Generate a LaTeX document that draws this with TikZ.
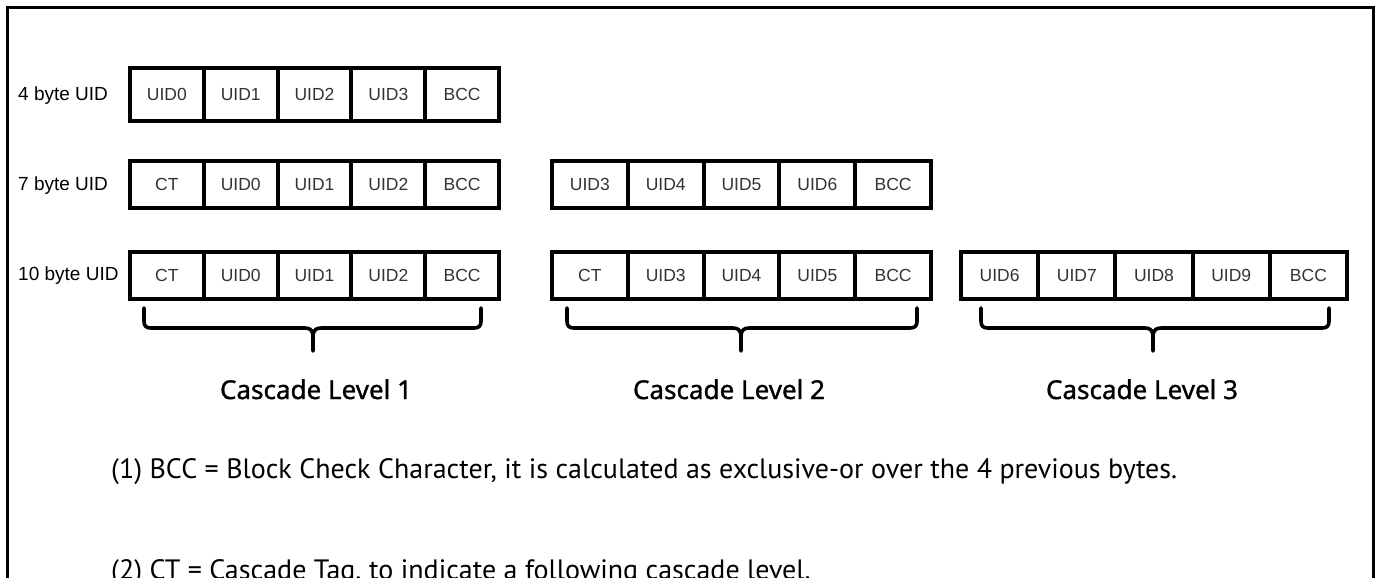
\documentclass[tikz,border=0pt]{standalone}
\usepackage{fontspec}
\setmainfont{Liberation Sans}
\newfontfamily\capfont[FakeBold=1.2]{Noto Sans}
\newfontfamily\notefont{PT Sans}
\begin{document}
\begin{tikzpicture}[x=1pt,y=-1pt,
  cell/.style={draw, line width=4pt, inner sep=0pt, minimum height=#1,
    text=black!80, font=\fontsize{17.5}{17.5}\selectfont},
  rowlabel/.style={anchor=west, inner sep=0pt, font=\fontsize{19}{19}\selectfont},
  brace/.style={line width=3.6pt, line cap=round, line join=round},
  caption/.style={anchor=base, inner sep=0pt, font=\capfont\fontsize{26}{26}\selectfont},
  note/.style={anchor=base west, inner sep=0pt, font=\notefont\fontsize{28}{28}\selectfont}]
\useasboundingbox (0,0) rectangle (1380,581);
\begin{scope}
\clip (0,0) rectangle (1380,577);

% outer frame, open at the bottom
\draw[line width=3pt] (7,590) -- (7,7) -- (1373,7) -- (1373,590);

% row labels
\node[rowlabel] (l4) at (18,96) {4 byte UID};
\node[rowlabel] (l7) at (18,186) {7 byte UID};
\node[rowlabel] (l10) at (18,276) {10 byte UID};

% 4 byte UID
\foreach \t [count=\i] in {UID0,UID1,UID2,UID3,BCC}
  \node[cell=53pt, minimum width=73.8pt] (a\i) at ({130+36.9+(\i-1)*73.8},94.5) {\t};

% 7 byte UID
\foreach \t [count=\i] in {CT,UID0,UID1,UID2,BCC}
  \node[cell=47pt, minimum width=73.8pt] (b\i) at ({130+36.9+(\i-1)*73.8},184.5) {\t};
\foreach \t [count=\i] in {UID3,UID4,UID5,UID6,BCC}
  \node[cell=47pt, minimum width=75.8pt] (c\i) at ({552+37.9+(\i-1)*75.8},184.5) {\t};

% 10 byte UID
\foreach \t [count=\i] in {CT,UID0,UID1,UID2,BCC}
  \node[cell=47pt, minimum width=73.8pt] (d\i) at ({130+36.9+(\i-1)*73.8},275.5) {\t};
\foreach \t [count=\i] in {CT,UID3,UID4,UID5,BCC}
  \node[cell=47pt, minimum width=75.8pt] (e\i) at ({552+37.9+(\i-1)*75.8},275.5) {\t};
\foreach \t [count=\i] in {UID6,UID7,UID8,UID9,BCC}
  \node[cell=47pt, minimum width=77.2pt] (f\i) at ({961+38.6+(\i-1)*77.2},275.5) {\t};

% braces under the cascade levels
\foreach \l/\c/\r in {144/313/481, 567/741/917, 981/1153/1329}{
  \draw[brace] (\l,308) -- (\l,321) .. controls (\l,326) and (\l+2,328) .. (\l+7,328)
    -- (\c-8,328) .. controls (\c-3,328) and (\c,330) .. (\c,337) -- (\c,351);
  \draw[brace] (\r,308) -- (\r,321) .. controls (\r,326) and (\r-2,328) .. (\r-7,328)
    -- (\c+8,328) .. controls (\c+3,328) and (\c,330) .. (\c,337);
}

% cascade level captions
\node[caption] (cl1) at (316,399) {Cascade Level 1};
\node[caption] (cl2) at (729,399) {Cascade Level 2};
\node[caption] (cl3) at (1142,399) {Cascade Level 3};

% footnotes
\node[note] (n1) at (111,478) {(1) BCC = Block Check Character, it is calculated as exclusive-or over the 4 previous bytes.};
\node[note] (n2) at (111,579) {(2) CT = Cascade Tag, to indicate a following cascade level.};
\end{scope}
\end{tikzpicture}
\end{document}
